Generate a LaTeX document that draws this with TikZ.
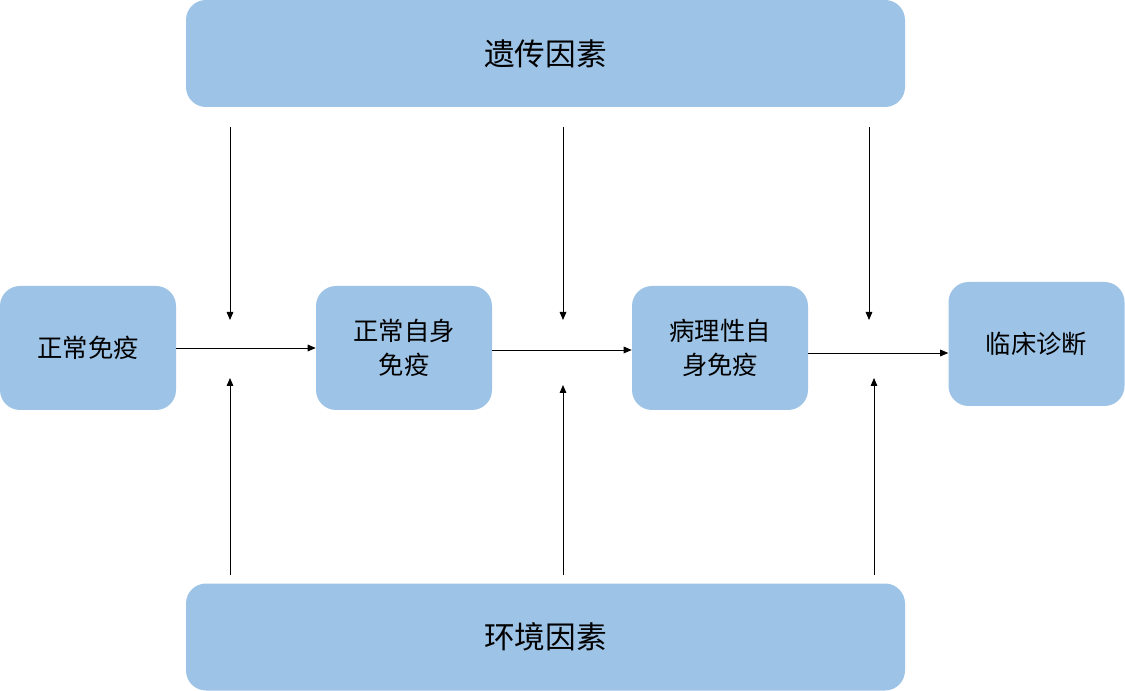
\documentclass[tikz,border=0pt]{standalone}
\usepackage{fontspec}
\newfontfamily\cjk{Noto Sans CJK SC}
\usetikzlibrary{arrows.meta}
\definecolor{boxblue}{RGB}{157,195,230}
\tikzset{
  factorbox/.style={fill=boxblue, rounded corners=15pt, minimum width=539.25pt, minimum height=80.25pt, font=\cjk\fontsize{23}{27}\selectfont},
  stagebox/.style={fill=boxblue, rounded corners=15pt, minimum width=132pt, minimum height=93pt, align=center, font=\cjk\fontsize{19}{26}\selectfont},
  flow/.style={-{Triangle[length=6pt,width=5pt]}, line width=0.6pt}
}
\begin{document}
\begin{tikzpicture}[x=0.75pt,y=0.75pt,yscale=-1,xscale=1]
\useasboundingbox (0,0) rectangle (1125,691);

% factor boxes
\node [factorbox] (gene) at (545.5,53.5) {遗传因素};
\node [factorbox] (env) at (545.5,637) {环境因素};

% stage boxes
\node [stagebox] (normal) at (88,348) {正常免疫};
\node [stagebox] (selfnormal) at (404,348) {正常自身\\免疫};
\node [stagebox] (selfpath) at (720,348) {病理性自\\身免疫};
\node [stagebox] (clinic) at (1036.5,344) {临床诊断};

% stage flow
\draw [flow] (normal.east |- 0,348) -- (selfnormal.west |- 0,348);
\draw [flow] (selfnormal.east |- 0,350) -- (selfpath.west |- 0,350);
\draw [flow] (selfpath.east |- 0,353) -- (clinic.west |- 0,353);

% arrow ends
\coordinate (g1s) at (230,127); \coordinate (g1e) at (230,320);
\coordinate (g2s) at (563,127); \coordinate (g2e) at (563,320);
\coordinate (g3s) at (869,127); \coordinate (g3e) at (869,320);
\coordinate (e1s) at (230,575); \coordinate (e1e) at (230,378);
\coordinate (e2s) at (563,575); \coordinate (e2e) at (563,385);
\coordinate (e3s) at (874,575); \coordinate (e3e) at (874,378);

\foreach \i in {1,2,3} {
  \draw [flow] (g\i s) -- (g\i e);
  \draw [flow] (e\i s) -- (e\i e);
}
\end{tikzpicture}
\end{document}
